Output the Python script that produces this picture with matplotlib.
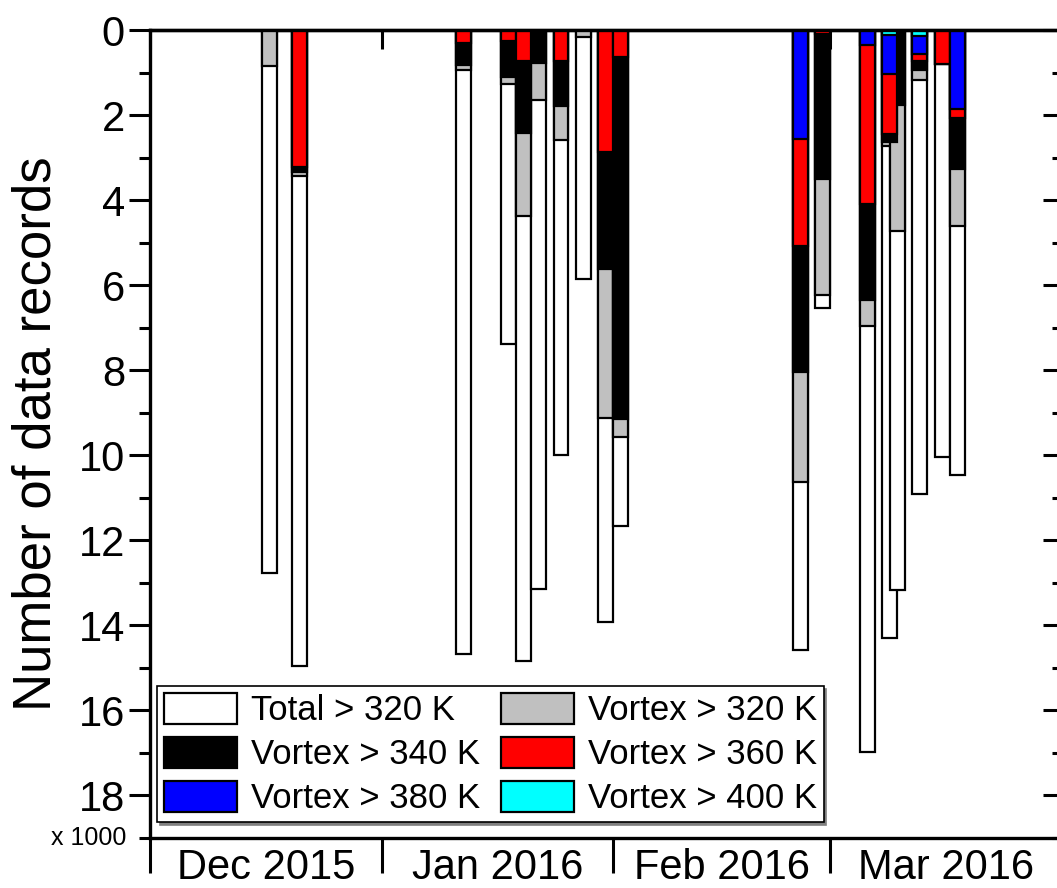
import matplotlib
matplotlib.use("Agg")
import matplotlib.pyplot as plt
import matplotlib.dates as mdates
import matplotlib.patches as mpatches
import numpy as np
from matplotlib.ticker import MultipleLocator, FixedLocator, NullFormatter, FixedFormatter

plt.rcParams['font.family'] = ['Liberation Sans', 'DejaVu Sans']

# flight days and number of data records (x 1000) above each theta level
flight_days = ["2015-12-17", "2015-12-21",
               "2016-01-12", "2016-01-18", "2016-01-20", "2016-01-22",
               "2016-01-25", "2016-01-28", "2016-01-31", "2016-02-02",
               "2016-02-26", "2016-02-29",
               "2016-03-06", "2016-03-09", "2016-03-10", "2016-03-13",
               "2016-03-16", "2016-03-18"]
total_320 = [12.78, 14.95, 14.67, 7.39, 14.84, 13.15, 10.00, 5.85, 13.92,
             11.66, 14.57, 6.54, 16.97, 14.30, 13.17, 10.92, 10.04, 10.46]
vortex_320 = [0.85, 3.44, 0.95, 1.27, 4.37, 1.64, 2.58, 0.17, 9.13,
              9.56, 10.63, 6.24, 6.95, 2.72, 4.73, 1.17, 0.80, 4.62]
vortex_340 = [0.00, 3.33, 0.82, 1.10, 2.43, 0.78, 1.78, 0.00, 5.63,
              9.15, 8.05, 3.51, 6.36, 2.64, 1.76, 0.95, 0.80, 3.27]
vortex_360 = [0.00, 3.21, 0.30, 0.25, 0.74, 0.00, 0.74, 0.00, 2.88,
              0.64, 5.09, 0.10, 4.08, 2.44, 0.00, 0.72, 0.80, 2.07]
vortex_380 = [0.00, 0.00, 0.00, 0.00, 0.00, 0.00, 0.00, 0.00, 0.00,
              0.00, 2.57, 0.00, 0.35, 1.03, 0.00, 0.57, 0.00, 1.86]
vortex_400 = [0.00, 0.00, 0.00, 0.00, 0.00, 0.00, 0.00, 0.00, 0.00,
              0.00, 0.00, 0.00, 0.00, 0.12, 0.00, 0.15, 0.00, 0.00]

months = ["2015-12-01", "2016-01-01", "2016-02-01", "2016-03-01", "2016-04-01"]
month_labels = ["Dec 2015", "Jan 2016", "Feb 2016", "Mar 2016"]

series = [(total_320, "white", "Total > 320 K"),
          (vortex_320, "#c0c0c0", "Vortex > 320 K"),
          (vortex_340, "black", "Vortex > 340 K"),
          (vortex_360, "red", "Vortex > 360 K"),
          (vortex_380, "blue", "Vortex > 380 K"),
          (vortex_400, "cyan", "Vortex > 400 K")]

x = mdates.date2num(np.array(flight_days, dtype="datetime64[D]"))
mx = mdates.date2num(np.array(months, dtype="datetime64[D]"))
mid = (mx[:-1] + mx[1:]) / 2

fig = plt.figure(figsize=(10.57, 8.88), dpi=100)
ax = fig.add_axes([0.1419, 0.0563, 0.8625, 0.9099])

# every level hangs from zero, later levels drawn over earlier ones
handles = {}
for vals, col, lab in series:
    ax.bar(x, vals, width=2.0, color=col, edgecolor="black", linewidth=1.6)
    handles[lab] = mpatches.Patch(facecolor=col, edgecolor="black", linewidth=1.6, label=lab)

ax.set_xlim(mx[0], mx[-1])
ax.set_ylim(19, 0)
ax.set_axisbelow(True)

ax.yaxis.set_major_locator(MultipleLocator(2))
ax.yaxis.set_minor_locator(MultipleLocator(1))
ax.set_yticks(np.arange(0, 19, 2))
ax.tick_params(axis="y", which="major", direction="out", length=15, width=2.2, labelsize=30, pad=3)
ax.tick_params(axis="y", which="minor", direction="out", length=8, width=2.2)

ax.xaxis.set_major_locator(FixedLocator(mx))
ax.xaxis.set_major_formatter(NullFormatter())
ax.xaxis.set_minor_locator(FixedLocator(mid))
ax.xaxis.set_minor_formatter(FixedFormatter(month_labels))
ax.tick_params(axis="x", which="major", direction="out", length=25, width=2.2)
ax.tick_params(axis="x", which="minor", length=0, labelsize=30, pad=7)

for s in ax.spines.values():
    s.set_linewidth(2.4)

top = ax.secondary_xaxis("top")
top.xaxis.set_major_locator(FixedLocator(mx))
top.xaxis.set_major_formatter(NullFormatter())
top.tick_params(axis="x", which="major", direction="in", length=14, width=2.2)
top.spines["top"].set_linewidth(2.4)

right = ax.secondary_yaxis("right")
right.yaxis.set_major_locator(MultipleLocator(2))
right.yaxis.set_minor_locator(MultipleLocator(1))
right.yaxis.set_major_formatter(NullFormatter())
right.tick_params(axis="y", which="major", direction="in", length=14, width=2.2)
right.tick_params(axis="y", which="minor", direction="in", length=7, width=2.2)

ax.set_ylabel("Number of data records", fontsize=38, labelpad=12)
ax.text(-0.026, 0.0, "x 1000", transform=ax.transAxes, ha="right", va="center", fontsize=18)

order = ["Total > 320 K", "Vortex > 340 K", "Vortex > 380 K",
         "Vortex > 320 K", "Vortex > 360 K", "Vortex > 400 K"]
leg = ax.legend([handles[k] for k in order], order, ncol=2, loc="lower left",
                bbox_to_anchor=(0.0077, 0.0198), borderaxespad=0, fontsize=25,
                handlelength=2.1, handleheight=1.0, handletextpad=0.4,
                columnspacing=0.6, labelspacing=0.27, borderpad=0.2,
                fancybox=False, framealpha=1, edgecolor="black",
                shadow={"color": "0.5", "alpha": 1})
leg.get_frame().set_linewidth(1.2)

fig.savefig("out.png", dpi=100)
